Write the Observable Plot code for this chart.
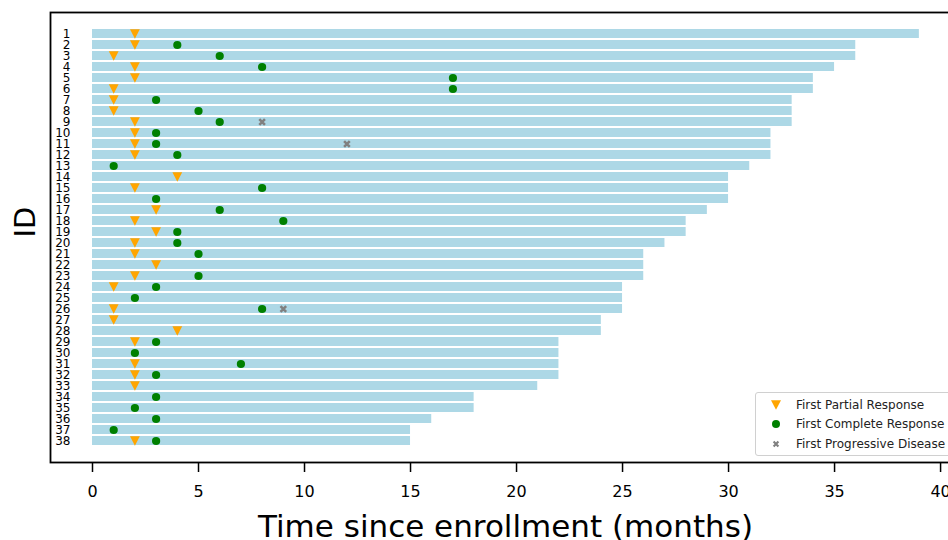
<!DOCTYPE html>
<html>
<head>
<meta charset="utf-8">
<script src="https://cdn.jsdelivr.net/npm/d3@7"></script>
<script src="https://cdn.jsdelivr.net/npm/@observablehq/plot@0.6"></script>
<style>
  html, body { margin: 0; padding: 0; background: white; overflow: hidden; }
  #wrap { position: relative; width: 948px; height: 540px; font-family: "DejaVu Sans", sans-serif; }
  #legend { position: absolute; left: 755px; top: 392px; width: 230px; height: 62px;
    border: 1px solid #d0d0d0; border-radius: 3px; background: rgba(255,255,255,0.85);
    font-size: 12px; color: #222; }
  .li { position: absolute; left: 0; height: 19px; display: flex; align-items: center; }
  .li svg { margin-left: 13px; margin-right: 13px; }
</style>
</head>
<body>
<div id="wrap"><div id="legend"></div></div>
<script>
const ids = d3.range(1, 39);
const durations = [39,36,36,35,34,34,33,33,33,32,32,32,31,30,30,30,29,28,28,27,26,26,26,25,25,25,24,24,22,22,22,22,21,18,18,16,15,15];
const partialResp = [2,2,1,2,2,1,1,1,2,2,2,2,null,4,2,null,3,2,3,2,2,3,2,1,null,1,1,4,2,null,2,2,2,null,null,null,null,2];
const completeResp = [null,4,6,8,17,17,3,5,6,3,3,4,1,null,8,3,6,9,4,4,5,null,5,3,2,8,null,null,3,2,7,3,null,3,2,3,1,3];
const progIds = [9, 11, 26];
const progTimes = [8, 12, 9];
const xTicks = [0,5,10,15,20,25,30,35,40];
const legendLabels = ["First Partial Response", "First Complete Response", "First Progressive Disease"];
const colors = {bar: "#add8e6", partial: "orange", complete: "green", prog: "gray"};

const bars = ids.map((id, i) => ({id, duration: durations[i]}));
const partial = ids.map((id, i) => ({id, t: partialResp[i]})).filter(d => d.t != null);
const complete = ids.map((id, i) => ({id, t: completeResp[i]})).filter(d => d.t != null);
const prog = progIds.map((id, i) => ({id, t: progTimes[i]}));

const triDown = {draw(ctx, size) {
  const s = Math.sqrt(size / Math.PI);
  ctx.moveTo(-s, -s * 0.95); ctx.lineTo(s, -s * 0.95); ctx.lineTo(0, s * 0.95); ctx.closePath();
}};
const filledX = {draw(ctx, size) {
  const s = Math.sqrt(size / Math.PI), t = s * 0.32;
  for (const a of [Math.PI / 4, -Math.PI / 4]) {
    const c = Math.cos(a), sn = Math.sin(a);
    const pts = [[-s, -t], [s, -t], [s, t], [-s, t]].map(([x, y]) => [x * c - y * sn, x * sn + y * c]);
    ctx.moveTo(pts[0][0], pts[0][1]);
    for (let k = 1; k < 4; k++) ctx.lineTo(pts[k][0], pts[k][1]);
    ctx.closePath();
  }
}};

const chart = Plot.plot({
  width: 948,
  height: 540,
  marginLeft: 50,
  marginRight: -12,
  marginTop: 12,
  marginBottom: 78,
  style: {fontFamily: "DejaVu Sans, sans-serif", color: "black", background: "white"},
  x: {domain: [-1.981, 40.94]},
  y: {domain: ids, paddingInner: 0.14, paddingOuter: 1.43, align: 0.5},
  marks: [
    Plot.barX(bars, {x: "duration", y: "id", fill: colors.bar}),
    Plot.dot(partial, {x: "t", y: "id", symbol: triDown, r: 4.9, fill: colors.partial, stroke: "none"}),
    Plot.dot(complete, {x: "t", y: "id", r: 4.1, fill: colors.complete, stroke: "none"}),
    Plot.dot(prog, {x: "t", y: "id", symbol: filledX, r: 4, fill: colors.prog, stroke: "none"}),
    Plot.frame({stroke: "black", strokeWidth: 1.8}),
    Plot.axisY({tickSize: 0, tickPadding: -20, fontSize: 12, label: null}),
    Plot.axisX({ticks: xTicks, tickSize: 10, tickPadding: 13, fontSize: 16, strokeWidth: 1.5, label: null}),
    Plot.text(["Time since enrollment (months)"], {frameAnchor: "bottom", dy: 65, fontSize: 31, lineAnchor: "middle"}),
    Plot.text(["ID"], {frameAnchor: "left", dx: -25, rotate: -90, fontSize: 29, lineAnchor: "middle"})
  ]
});
document.getElementById("wrap").prepend(chart);

const legend = document.getElementById("legend");
const syms = [
  {sym: triDown, fill: colors.partial, r: 5},
  {sym: d3.symbolCircle, fill: colors.complete, r: 4},
  {sym: filledX, fill: colors.prog, r: 3.4}
];
legendLabels.forEach((lab, i) => {
  const row = document.createElement("div");
  row.className = "li";
  row.style.top = (2 + i * 19.5) + "px";
  const path = d3.symbol(syms[i].sym, syms[i].r * syms[i].r * Math.PI)();
  row.innerHTML = `<svg width="14" height="14" viewBox="-7 -7 14 14"><path d="${path}" fill="${syms[i].fill}"/></svg><span>${lab}</span>`;
  legend.appendChild(row);
});
</script>
</body>
</html>
